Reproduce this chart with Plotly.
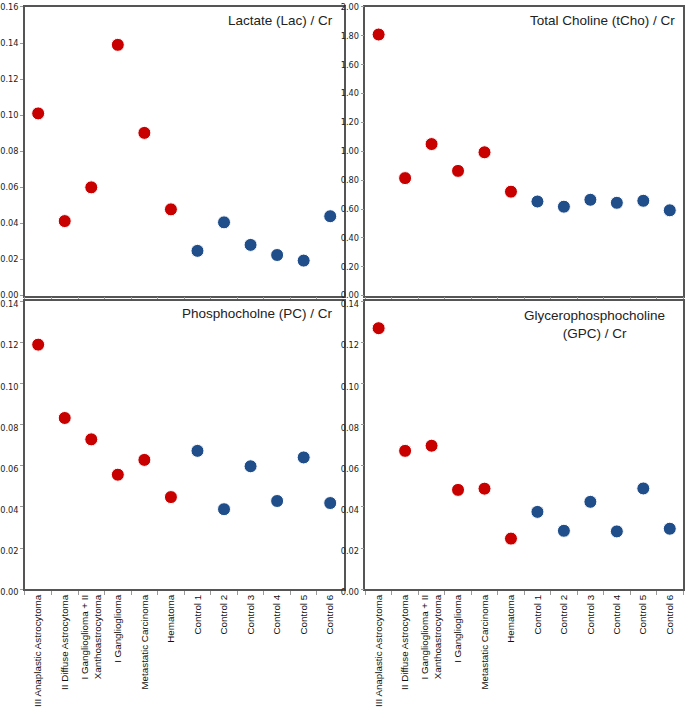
import plotly.graph_objects as go

categories = [
    "III Anaplastic Astrocytoma",
    "II Diffuse Astrocytoma",
    "I Ganglioglioma + II<br>Xanthoastrocytoma",
    "I Ganglioglioma",
    "Metastatic Carcinoma",
    "Hematoma",
    "Control 1",
    "Control 2",
    "Control 3",
    "Control 4",
    "Control 5",
    "Control 6",
]
is_control = [False] * 6 + [True] * 6

lac_cr = [0.101, 0.0413, 0.060, 0.139, 0.0902, 0.0478, 0.0248, 0.0406, 0.0281, 0.0225, 0.0194, 0.044]
tcho_cr = [1.809, 0.814, 1.05, 0.864, 0.993, 0.72, 0.652, 0.616, 0.664, 0.643, 0.657, 0.591]
pc_cr = [0.119, 0.0833, 0.0729, 0.0557, 0.0629, 0.0448, 0.0673, 0.0389, 0.0598, 0.0429, 0.0641, 0.0419]
gpc_cr = [0.127, 0.0673, 0.0698, 0.0483, 0.0489, 0.0246, 0.0376, 0.0284, 0.0425, 0.0281, 0.049, 0.0294]

titles = ["Lactate (Lac) / Cr", "Total Choline (tCho) / Cr",
          "Phosphocholne (PC) / Cr", "Glycerophosphocholine<br>(GPC) / Cr"]
y_ranges = [(0, 0.16, 0.02), (0, 2.0, 0.2), (0, 0.14, 0.02), (0, 0.14, 0.02)]

RED = "#C80000"
BLUE = "#1F4E8A"
colors = [BLUE if c else RED for c in is_control]

W, H = 685, 712
def px_x(a, b):
    return [a / W, b / W]
def px_y(top, bottom):
    return [1 - bottom / H, 1 - top / H]

x_domains = [px_x(22, 342), px_x(364, 683), px_x(22, 342), px_x(364, 683)]
y_domains = [px_y(2, 296), px_y(2, 296), px_y(302, 595), px_y(302, 595)]

series = [lac_cr, tcho_cr, pc_cr, gpc_cr]

fig = go.Figure()
layout = dict(
    width=W, height=H,
    margin=dict(l=0, r=0, t=0, b=0),
    paper_bgcolor="white", plot_bgcolor="white",
    showlegend=False,
    font=dict(family="Liberation Sans, Arial, sans-serif", color="#222"),
)
annotations = []
title_x = [0.972, 0.981, 0.972, 0.95]
title_y = [0.985, 0.985, 0.99, 0.985]
title_align = ["right", "right", "right", "center"]

for i, vals in enumerate(series):
    n = "" if i == 0 else str(i + 1)
    fig.add_trace(go.Scatter(
        x=categories, y=vals, mode="markers",
        xaxis="x" + n, yaxis="y" + n,
        marker=dict(size=13, color=colors, line=dict(color="white", width=1)),
        hoverinfo="x+y",
    ))
    lo, hi, step = y_ranges[i]
    bottom_row = i >= 2
    layout["xaxis" + n] = dict(
        domain=x_domains[i], anchor="y" + n,
        type="category", categoryorder="array", categoryarray=categories,
        range=[-0.5, 11.5],
        showline=True, linecolor="#555", linewidth=1.5, mirror=True,
        ticks="outside", tickson="boundaries", ticklen=4, tickcolor="#999", tickwidth=1,
        showgrid=False, zeroline=False,
        showticklabels=bottom_row, tickangle=-90,
        tickfont=dict(family="Liberation Sans, Arial, sans-serif", size=9.8, color="#111"),
    )
    layout["yaxis" + n] = dict(
        domain=y_domains[i], anchor="x" + n,
        range=[lo, hi], dtick=step, tick0=0, tickformat=".2f",
        showline=True, linecolor="#555", linewidth=1.5, mirror=True,
        ticks="outside", ticklen=3, tickcolor="#999", tickwidth=1,
        showgrid=False, zeroline=False,
        ticklabelshift=(3 if bottom_row else 0),
        ticklabeloverflow="allow",
        tickfont=dict(family="DejaVu Sans, sans-serif", size=8.2, color="#222"),
    )
    annotations.append(dict(
        text=titles[i], xref="x" + n + " domain", yref="y" + n + " domain",
        x=title_x[i], y=title_y[i], xanchor="right", yanchor="top",
        align=title_align[i], showarrow=False,
        font=dict(family="Liberation Sans, Arial, sans-serif", size=13.5, color="#222"),
    ))

layout["annotations"] = annotations
fig.update_layout(**layout)
fig.write_html(
    "out.html",
    config={"displayModeBar": False},
    post_script="document.body.style.margin='0';document.body.style.overflow='hidden';",
)
